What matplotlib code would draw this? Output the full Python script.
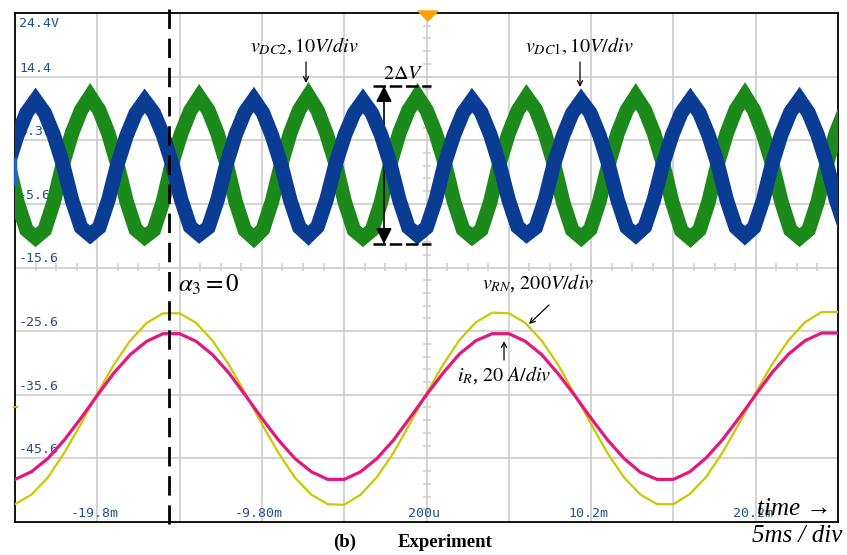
import numpy as np
import matplotlib
matplotlib.use('Agg')
import matplotlib.pyplot as plt
from matplotlib.lines import Line2D
from matplotlib.patches import Polygon

plt.rcParams['mathtext.fontset'] = 'stix'
plt.rcParams['font.family'] = ['Liberation Serif', 'DejaVu Serif']

# ---------------- scope traces ----------------
# time base: 5 ms/div, screen from -24.8 ms to 25.2 ms
# vertical: all channels shown on one 10 /div screen scale
t_ac = np.arange(-24.8, 25.21, 1.0)          # ms, one sample per ms

# v_RN (yellow) in screen units
v_rn = [-52.8, -51.3, -48.6, -44.7, -40.2, -35.4, -30.9, -27.1, -24.3, -22.8,
        -22.8, -24.3, -27.1, -30.9, -35.4, -40.2, -44.7, -48.6, -51.3, -52.8,
        -52.9, -51.3, -48.5, -44.7, -40.1, -35.4, -30.9, -27.0, -24.2, -22.7,
        -22.8, -24.3, -27.1, -30.9, -35.5, -40.2, -44.8, -48.6, -51.3, -52.8,
        -52.8, -51.2, -48.5, -44.6, -40.1, -35.3, -30.8, -27.0, -24.2, -22.6,
        -22.6]

# i_R (magenta) in screen units
i_r = [-48.9, -47.7, -45.6, -42.7, -39.3, -35.7, -32.2, -29.3, -27.2, -26.0,
       -26.0, -27.2, -29.3, -32.2, -35.7, -39.3, -42.7, -45.6, -47.7, -48.9,
       -48.9, -47.7, -45.6, -42.7, -39.2, -35.6, -32.2, -29.2, -27.1, -26.0,
       -26.0, -27.2, -29.3, -32.3, -35.7, -39.3, -42.7, -45.6, -47.8, -48.9,
       -48.9, -47.7, -45.5, -42.6, -39.2, -35.6, -32.1, -29.2, -27.1, -25.9,
       -25.9]

# capacitor voltages, 150 Hz ripple, sampled every 0.5525 ms
t_dc = -25.2075 + 0.5525 * np.arange(93)

v_dc1 = [0.7, 5.2, 8.7, 10.7, 8.7, 5.2, 0.7, -5.0, -9.3, -10.5, -9.3, -5.0,
         0.6, 5.1, 8.6, 10.6, 8.7, 5.3, 0.8, -4.9, -9.2, -10.4, -9.3, -5.0,
         0.7, 5.3, 8.8, 10.8, 8.7, 5.1, 0.6, -5.0, -9.3, -10.6, -9.2, -4.9,
         0.7, 5.2, 8.6, 10.6, 8.6, 5.2, 0.7, -5.0, -9.3, -10.5, -9.3, -5.0,
         0.8, 5.2, 8.7, 10.7, 8.8, 5.3, 0.7, -4.9, -9.2, -10.4, -9.3, -5.0,
         0.7, 5.1, 8.6, 10.6, 8.7, 5.2, 0.6, -5.0, -9.3, -10.5, -9.2, -4.9,
         0.7, 5.2, 8.7, 10.7, 8.7, 5.2, 0.7, -5.0, -9.3, -10.6, -9.3, -5.0,
         0.7, 5.3, 8.8, 10.8, 8.7, 5.2, 0.7, -4.9, -9.2]

v_dc2 = [0.7, -5.3, -9.7, -10.9, -9.7, -5.3, 0.7, 5.5, 9.1, 11.3, 9.1, 5.5,
         0.6, -5.2, -9.6, -10.8, -9.7, -5.3, 0.8, 5.4, 9.0, 11.2, 9.1, 5.5,
         0.7, -5.3, -9.7, -11.0, -9.6, -5.2, 0.6, 5.5, 9.2, 11.4, 9.1, 5.4,
         0.7, -5.3, -9.7, -10.9, -9.7, -5.3, 0.7, 5.5, 9.1, 11.3, 9.1, 5.5,
         0.8, -5.2, -9.6, -10.8, -9.7, -5.3, 0.7, 5.4, 9.0, 11.2, 9.2, 5.5,
         0.7, -5.3, -9.7, -10.9, -9.6, -5.2, 0.6, 5.5, 9.1, 11.3, 9.1, 5.5,
         0.7, -5.3, -9.8, -11.0, -9.7, -5.3, 0.7, 5.5, 9.2, 11.4, 9.1, 5.4,
         0.7, -5.2, -9.7, -10.9, -9.7, -5.3, 0.7, 5.5, 9.1]

y_labels = ['24.4V', '14.4', '4.37', '-5.63', '-15.6', '-25.6', '-35.6', '-45.6']
y_label_vals = [24.4, 14.4, 4.37, -5.63, -15.6, -25.6, -35.6, -45.6]
x_labels = ['-19.8m', '-9.80m', '200u', '10.2m', '20.2m']
x_label_vals = [-19.8, -9.8, 0.2, 10.2, 20.2]

# ---------------- figure ----------------
W, H = 847, 555
fig = plt.figure(figsize=(W / 100, H / 100), dpi=100)
ax = fig.add_axes([15 / W, 33 / H, 823 / W, 509 / H])


def fp(x, y):
    # top-left pixel position -> figure fraction
    return (x / W, 1 - y / H)


xmin, xmax = -24.8, 25.2
ymin, ymax = -55.6, 24.4
ax.set_xlim(xmin, xmax)
ax.set_ylim(ymin, ymax)

gridc = '#cccccc'
ax.set_xticks(xmin + 5 * np.arange(1, 10))
ax.set_yticks(ymax - 10 * np.arange(1, 8))
ax.grid(True, color=gridc, lw=1.2, zorder=0)
ax.set_axisbelow(True)
ax.tick_params(length=0, labelbottom=False, labelleft=False)
for s in ax.spines.values():
    s.set_linewidth(1.3)
    s.set_color('black')

# minor ticks on centre cross
xc, yc = 0.2, -15.6
ax.plot(np.full(41, xc), ymin + 2 * np.arange(41), ls='none', marker='_',
        ms=6, mew=1.1, color=gridc, zorder=1)
ax.plot(xmin + 1.25 * np.arange(41), np.full(41, yc), ls='none', marker='|',
        ms=6, mew=1.1, color=gridc, zorder=1)

# scope labels
lab_kw = dict(family='DejaVu Sans Mono', fontsize=9.5, color='#23508f', zorder=2)
for lab, v in zip(y_labels, y_label_vals):
    if v == y_label_vals[0]:
        ax.annotate(lab, xy=(0, v), xycoords=('axes fraction', 'data'),
                    xytext=(3, -3), textcoords='offset points', va='top', **lab_kw)
    else:
        ax.annotate(lab, xy=(0, v), xycoords=('axes fraction', 'data'),
                    xytext=(3, 1.5), textcoords='offset points', va='bottom', **lab_kw)
for lab, v in zip(x_labels, x_label_vals):
    ax.annotate(lab, xy=(v, 0), xycoords=('data', 'axes fraction'),
                xytext=(-2, 1.5), textcoords='offset points', ha='center',
                va='bottom', **lab_kw)

# traces
ax.plot(t_dc, v_dc2, color='#1b8a1b', lw=10.5, solid_joinstyle='miter', zorder=3)
ax.plot(t_dc, v_dc1, color='#0b3c94', lw=10.5, solid_joinstyle='miter', zorder=4)
ax.plot(t_ac, v_rn, color='#c9c900', lw=1.6, zorder=5)
ax.plot(t_ac, i_r, color='#e3177c', lw=2.3, zorder=6)

# channel / trigger markers
fig.add_artist(Line2D([15 / W, 15 / W], [1 - 159 / H, 1 - 183 / H], color='#1f5fd0',
                      lw=2.5, transform=fig.transFigure))
fig.add_artist(Line2D([14 / W, 17 / W], [1 - 407 / H, 1 - 407 / H], color='#f0a000',
                      lw=1.5, transform=fig.transFigure))
tri = Polygon([fp(418, 11), fp(438, 11), fp(428, 21)], closed=True,
              color='#ffa200', transform=fig.transFigure)
fig.add_artist(tri)

# dashed alpha_3 = 0 marker
fig.add_artist(Line2D([169 / W, 169 / W], [1 - 9 / H, 1 - 524 / H], color='black',
                      lw=2.0, dashes=(7, 3.5), transform=fig.transFigure))

# 2 delta V
for yy in (86, 244):
    fig.add_artist(Line2D([373 / W, 431 / W], [1 - yy / H, 1 - yy / H], color='black',
                          lw=1.8, dashes=(5, 1.5), transform=fig.transFigure))
ax.annotate('', xy=fp(384, 86), xycoords='figure fraction', xytext=fp(384, 244),
            textcoords='figure fraction',
            arrowprops=dict(arrowstyle='<|-|>', color='black', lw=1.2,
                            mutation_scale=24, shrinkA=0, shrinkB=0))

txt = dict(fontsize=14.5, va='baseline', ha='left')
fig.text(*fp(250, 52), r'$v_{DC2},10V/div$', **txt)
fig.text(*fp(525, 52), r'$v_{DC1},10V/div$', **txt)
fig.text(*fp(383, 79), r'$2\Delta V$', **txt)
fig.text(*fp(482, 289), r'$v_{RN}$, $200V/div$', **txt)
fig.text(*fp(457, 381), r'$i_R$, $20\ A/div$', **txt)
fig.text(*fp(178, 292), r'$\alpha_3 = 0$', fontsize=18, va='baseline')

arr = dict(arrowstyle='->', color='black', lw=0.9, mutation_scale=9,
           shrinkA=0, shrinkB=0)
for (x0, y0, x1, y1) in [(306, 62, 306, 83), (580, 62, 580, 87),
                         (549, 305, 529, 324), (504, 360, 504, 341)]:
    ax.annotate('', xy=fp(x1, y1), xycoords='figure fraction', xytext=fp(x0, y0),
                textcoords='figure fraction', arrowprops=arr)

fig.text(*fp(757, 515), 'time \u2192', fontsize=18, style='italic', va='baseline')
fig.text(*fp(752, 542), '5ms / div', fontsize=18, style='italic', va='baseline')
fig.text(*fp(333, 547), '(b)', fontsize=13.5, weight='bold', va='baseline')
fig.text(*fp(398, 547), 'Experiment', fontsize=13.5, weight='bold', va='baseline')

fig.savefig('out.png', dpi=100)
